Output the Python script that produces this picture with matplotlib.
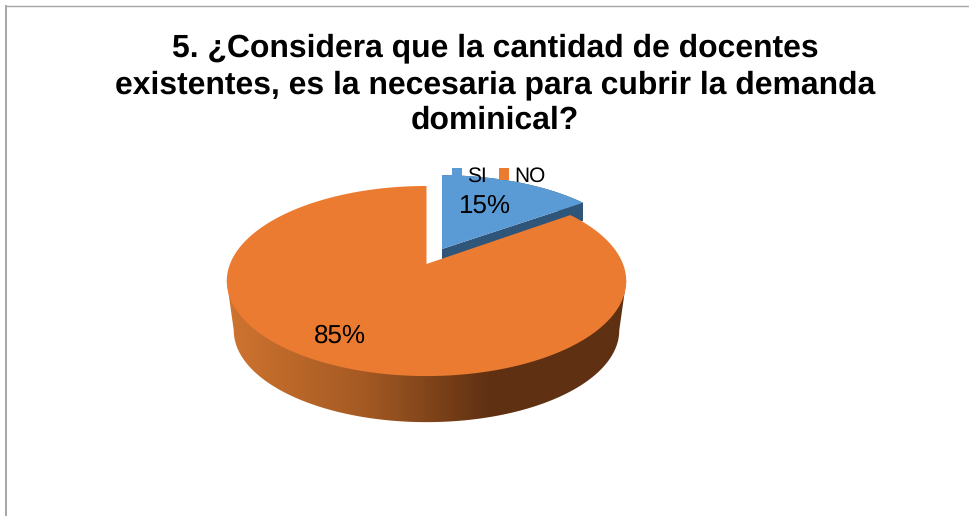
import numpy as np
import matplotlib
matplotlib.use("Agg")
import matplotlib.pyplot as plt
from matplotlib.colors import LinearSegmentedColormap
from matplotlib.patches import Patch, Polygon

# Survey answers
categories = ["SI", "NO"]
shares = [15, 85]
title_lines = [
    "5. ¿Considera que la cantidad de docentes",
    "existentes, es la necesaria para cubrir la demanda",
    "dominical?",
]

BLUE = "#5b9bd5"
BLUE_SIDE = "#2f5679"
ORANGE = "#eb7b30"

plt.rcParams["font.family"] = ["Liberation Sans", "DejaVu Sans"]
plt.rcParams["text.hinting"] = "no_hinting"

W, H = 969, 516
fig = plt.figure(figsize=(W / 100, H / 100), dpi=100, facecolor="white")
ax = fig.add_axes([0, 0, 1, 1])
ax.set_xlim(0, W)
ax.set_ylim(H, 0)
ax.axis("off")

# Chart frame: top and left edges only
ax.plot([6.5, W], [5.5, 5.5], color="#a6a6a6", lw=1.0, solid_capstyle="butt")
ax.plot([6.5, 6.5], [5, H], color="#a6a6a6", lw=1.4, solid_capstyle="butt")

# Perspective projection of a flat unit disc onto the canvas
TILT = 0.179
RX, RY = 196.5, 92.0


def project(theta, cx, cy, scale_x=1.0, scale_y=1.0):
    """theta is measured clockwise from twelve o'clock, in radians."""
    ux = np.sin(theta)
    uy = np.cos(theta)
    w = 1 + TILT * uy
    return cx + scale_x * RX * ux / w, cy - scale_y * RY * uy / w


def wedge(start, stop, cx, cy, scale_x=1.0, scale_y=1.0, n=300):
    t = np.linspace(start, stop, n)
    x, y = project(t, cx, cy, scale_x, scale_y)
    return np.column_stack([np.r_[cx, x], np.r_[cy, y]])


fractions = np.cumsum([0] + shares) / sum(shares) * 2 * np.pi
si_start, si_stop = fractions[0], fractions[1]
no_start, no_stop = fractions[1], fractions[2]

DEPTH = 50.0
BASE_SCALE = 0.965
NO_C = (426.5, 264.0)
SI_C = (442.0, 249.0)
SI_SX, SI_SY = 0.98, 0.945
SI_DROP = 18

# SI wedge: rim, cut face, then top surface
t = np.linspace(si_start, si_stop, 120)
sx, sy = project(t, *SI_C, SI_SX, SI_SY)
side = np.column_stack([np.r_[sx, sx[::-1]], np.r_[sy, sy[::-1] + SI_DROP]])
ax.add_patch(Polygon(side, closed=True, fc=BLUE_SIDE, ec="none", zorder=2))
tip = (sx[-1], sy[-1])
ax.add_patch(Polygon([SI_C, tip, (tip[0], tip[1] + SI_DROP), (SI_C[0], SI_C[1] + SI_DROP)],
                     closed=True, fc=BLUE_SIDE, ec="none", zorder=2))
ax.add_patch(Polygon(wedge(si_start, si_stop, *SI_C, SI_SX, SI_SY), closed=True,
                     fc=BLUE, ec="none", zorder=3))

# NO wedge: the wall outline runs between the outermost points of the two rims
t = np.linspace(no_start, no_stop, 1600)
tx, ty = project(t, *NO_C)
bx, by = project(t, NO_C[0], NO_C[1] + DEPTH, BASE_SCALE, BASE_SCALE)
lo, hi = sorted((np.argmin(bx), np.argmax(bx)))
outline = np.column_stack([
    np.r_[tx[np.argmax(tx)], bx[lo:hi + 1], tx[np.argmin(tx)]],
    np.r_[ty[np.argmax(tx)], by[lo:hi + 1], ty[np.argmin(tx)]],
])
wall = Polygon(outline, closed=True, fc="none", ec="none", transform=ax.transData)
ax.add_patch(wall)
rim = LinearSegmentedColormap.from_list(
    "rim", [(0.0, "#cf7430"), (0.34, "#a55a23"), (0.66, "#5f3012"), (1.0, "#5f3012")]
)
shade = ax.imshow(np.linspace(0, 1, 400)[None, :], cmap=rim, aspect="auto",
                  extent=(226, 627, 425, 180), zorder=4)
shade.set_clip_path(wall)
ax.set_xlim(0, W)
ax.set_ylim(H, 0)
ax.add_patch(Polygon(wedge(no_start, no_stop, *NO_C), closed=True,
                     fc=ORANGE, ec="none", zorder=5))

# Percentage labels
ax.text(484, 206.5, f"{shares[0]}%", fontsize=18.7, ha="center", va="center", color="black", zorder=7)
ax.text(339.5, 336, f"{shares[1]}%", fontsize=18.7, ha="center", va="center", color="black", zorder=7)

# Title, one centred line at a time
for line, y in zip(title_lines, [48.5, 85, 120.5]):
    ax.text(495, y, line, fontsize=22.95, fontweight="bold", ha="center", va="center", color="black")

# Legend
handles = [Patch(fc=BLUE, ec="none"), Patch(fc=ORANGE, ec="none")]
leg = ax.legend(handles, categories, loc="center left",
                bbox_to_anchor=(452 / W, 1 - 176 / H), bbox_transform=fig.transFigure,
                ncol=2, frameon=False, fontsize=15.0, handlelength=0.48, handleheight=0.48,
                handletextpad=0.22, columnspacing=0.62, borderpad=0, borderaxespad=0)
leg.set_zorder(8)

fig.savefig("out.png", dpi=100, facecolor="white")
